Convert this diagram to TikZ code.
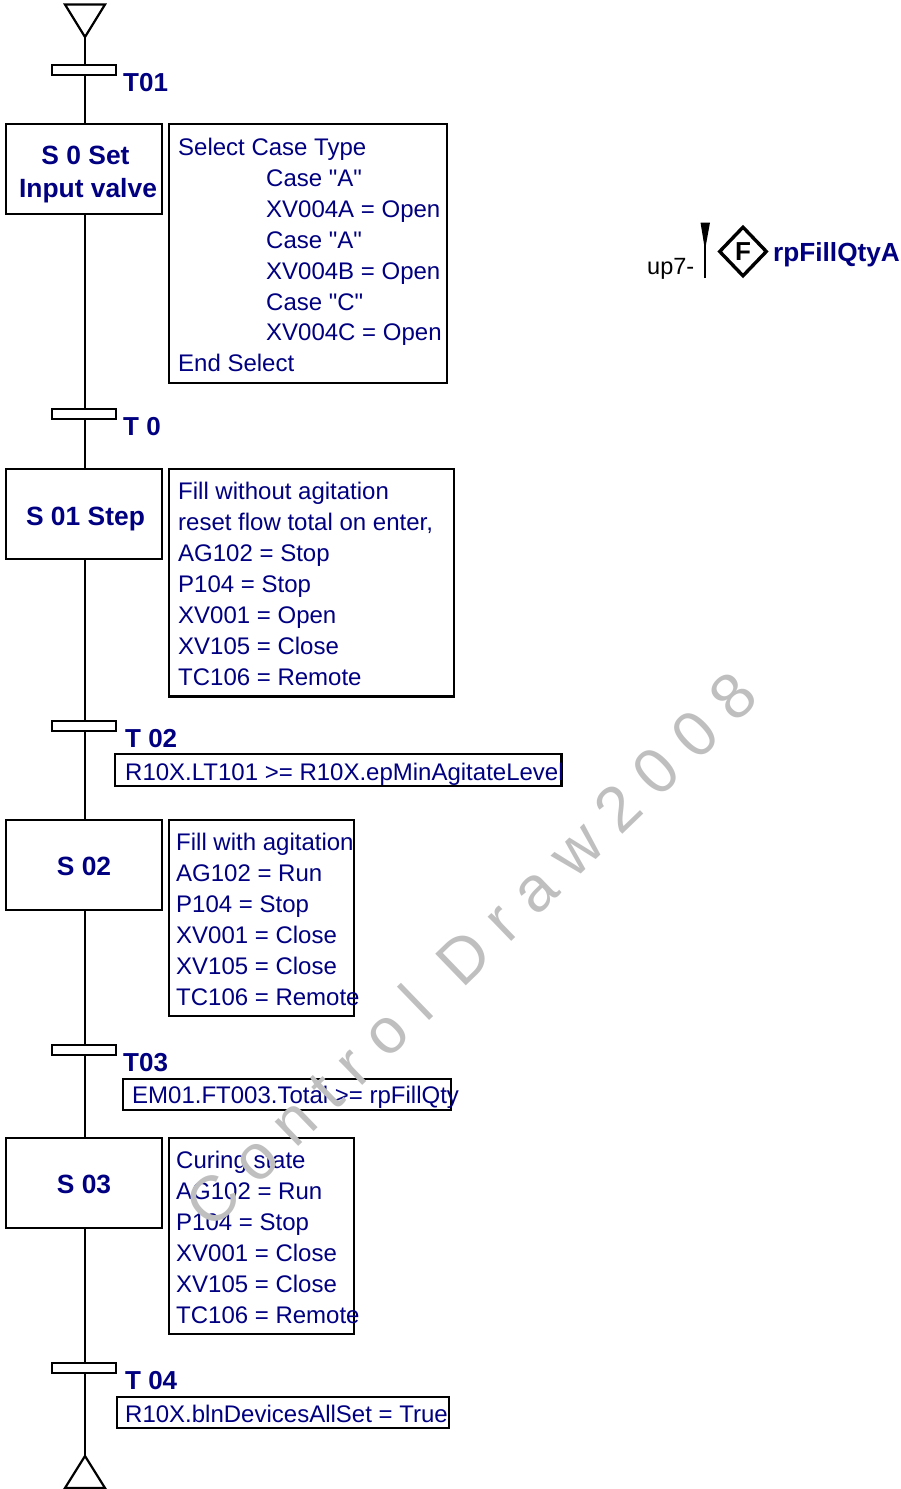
\documentclass[tikz,border=0pt]{standalone}
\usepackage{fontspec}
\setmainfont{Liberation Sans}[Ligatures=TeXOff]
\usepackage{xcolor}
\usetikzlibrary{arrows.meta,positioning,shapes.geometric}
\definecolor{sfcblue}{RGB}{0,0,128}

\begin{document}
\begin{tikzpicture}[
  x=1pt, y=-1pt,
  wire/.style={line width=2.2pt, black},
  stepbox/.style={draw, line width=2.2pt, minimum width=156pt, minimum height=90pt, inner sep=0pt, outer sep=0pt, anchor=north west, align=center, text=sfcblue, font=\fontsize{26.4}{33}\selectfont\bfseries},
  trans/.style={draw, line width=2.2pt, fill=white, minimum width=64pt, minimum height=10pt, inner sep=0pt, outer sep=0pt},
  tlbl/.style={anchor=west, inner sep=0pt, text=sfcblue, font=\fontsize{26}{30}\selectfont\bfseries},
  actbox/.style={draw, line width=2.2pt, inner sep=0pt, outer sep=0pt, anchor=north west},
  acttxt/.style={anchor=north west, inner sep=0pt, align=left, text=sfcblue, font=\fontsize{24}{30.9}\selectfont},
  mark text/.style={rotate=44, text=black!25, font=\fontsize{64}{64}\selectfont}
]
\useasboundingbox (0,0) rectangle (901,1489);

% Start and end
\coordinate (start) at (85,37);
\coordinate (finish) at (85,1456);
\draw[wire, line join=miter] (65,4.5) -- (105,4.5) -- (start) -- cycle;
\draw[wire, line join=miter] (65,1488) -- (105,1488) -- (finish) -- cycle;

% Transitions
\node[trans] (t01) at (84.2,70.2) {};
\node[trans] (t0) at (84.2,414) {};
\node[trans] (t02) at (84.2,726) {};
\node[trans] (t03) at (84.2,1050) {};
\node[trans] (t04) at (84.2,1368) {};
\node[tlbl] (t01lbl) at (123,82.5) {T01};
\node[tlbl] (t0lbl) at (123,426.5) {T 0};
\node[tlbl] (t02lbl) at (125,738.5) {T 02};
\node[tlbl] (t03lbl) at (123,1062.5) {T03};
\node[tlbl] (t04lbl) at (125,1380.5) {T 04};

% Steps
\node[stepbox] (s0) at (6,124.3) {\\[-3.4pt]\hspace*{3pt}S 0 Set\\\hspace*{8pt}Input valve};
\node[stepbox, minimum height=90.5pt] (s01) at (6,468.8) {\rule{0pt}{28pt}\hspace*{3pt}S 01 Step};
\node[stepbox] (s02) at (6,820) {\rule{0pt}{21pt}S 02};
\node[stepbox] (s03) at (6,1138) {\rule{0pt}{21pt}S 03};

% Links
\draw[wire] (start) -- (start |- t01.north);
\draw[wire] (start |- t01.south) -- (start |- s0.north);
\draw[wire] (start |- s0.south) -- (start |- t0.north);
\draw[wire] (start |- t0.south) -- (start |- s01.north);
\draw[wire] (start |- s01.south) -- (start |- t02.north);
\draw[wire] (start |- t02.south) -- (start |- s02.north);
\draw[wire] (start |- s02.south) -- (start |- t03.north);
\draw[wire] (start |- t03.south) -- (start |- s03.north);
\draw[wire] (start |- s03.south) -- (start |- t04.north);
\draw[wire] (start |- t04.south) -- (finish);

% Actions
\node[actbox, minimum width=277.7pt, minimum height=258.7pt] (a0) at (169.3,124.3) {};
\node[acttxt] (a0txt) at (178,138) {Select Case Type\\
  \hspace*{88pt}Case "A"\\
  \hspace*{88pt}XV004A = Open\\
  \hspace*{88pt}Case "A"\\
  \hspace*{88pt}XV004B = Open\\
  \hspace*{88pt}Case "C"\\
  \hspace*{88pt}XV004C = Open\\
  End Select};
\node[actbox, minimum width=284.7pt, minimum height=227.7pt] (a01) at (169.3,468.8) {};
\node[acttxt] (a01txt) at (178,482) {Fill without agitation\\
  reset flow total on enter,\\
  AG102 = Stop\\
  P104 = Stop\\
  XV001 = Open\\
  XV105 = Close\\
  TC106 = Remote};
\node[actbox, minimum width=184.7pt, minimum height=196pt] (a02) at (169.3,820) {};
\node[acttxt] (a02txt) at (176,833) {Fill with agitation\\
  AG102 = Run\\
  P104 = Stop\\
  XV001 = Close\\
  XV105 = Close\\
  TC106 = Remote};
\node[actbox, minimum width=184.7pt, minimum height=196pt] (a03) at (169.3,1138) {};
\node[acttxt] (a03txt) at (176,1151) {Curing state\\
  AG102 = Run\\
  P104 = Stop\\
  XV001 = Close\\
  XV105 = Close\\
  TC106 = Remote};

% Conditions
\node[actbox, minimum width=446.5pt, minimum height=32.4pt] (c02) at (115,753.8) {};
\node[acttxt] (c02txt) at (125,763) {R10X.LT101 >= R10X.epMinAgitateLevel};
\node[actbox, minimum width=327.6pt, minimum height=31.4pt] (c03) at (123,1078.8) {};
\node[acttxt] (c03txt) at (132,1086) {EM01.FT003.Total >= rpFillQty};
\node[actbox, minimum width=332.2pt, minimum height=31.4pt] (c04) at (116.8,1396.8) {};
\node[acttxt] (c04txt) at (125,1405) {R10X.blnDevicesAllSet = True};

% Side symbol
\node[anchor=west, inner sep=0pt, font=\fontsize{23.5}{26}\selectfont] (uplbl) at (647,269) {up7-};
\coordinate (flagtip) at (705,278);
\draw[line width=1.8pt] (flagtip) -- (705,245);
\fill (700.5,222.5) -- (710,222.5) -- (705,250) -- cycle;
\node[diamond, draw, line width=3.4pt, minimum width=48pt, minimum height=50pt, inner sep=0pt, font=\fontsize{26}{26}\selectfont\bfseries] (fill) at (743,251.5) {F};
\node[anchor=west, inner sep=0pt, text=sfcblue, font=\fontsize{26.2}{30}\selectfont\bfseries] (fillname) at (773,255) {rpFillQtyA};

% Watermark
\node[mark text] (mark) at (470.5,949.3) {C o n t r o l ~D r a w 2 0 0 8};

\end{tikzpicture}
\end{document}
